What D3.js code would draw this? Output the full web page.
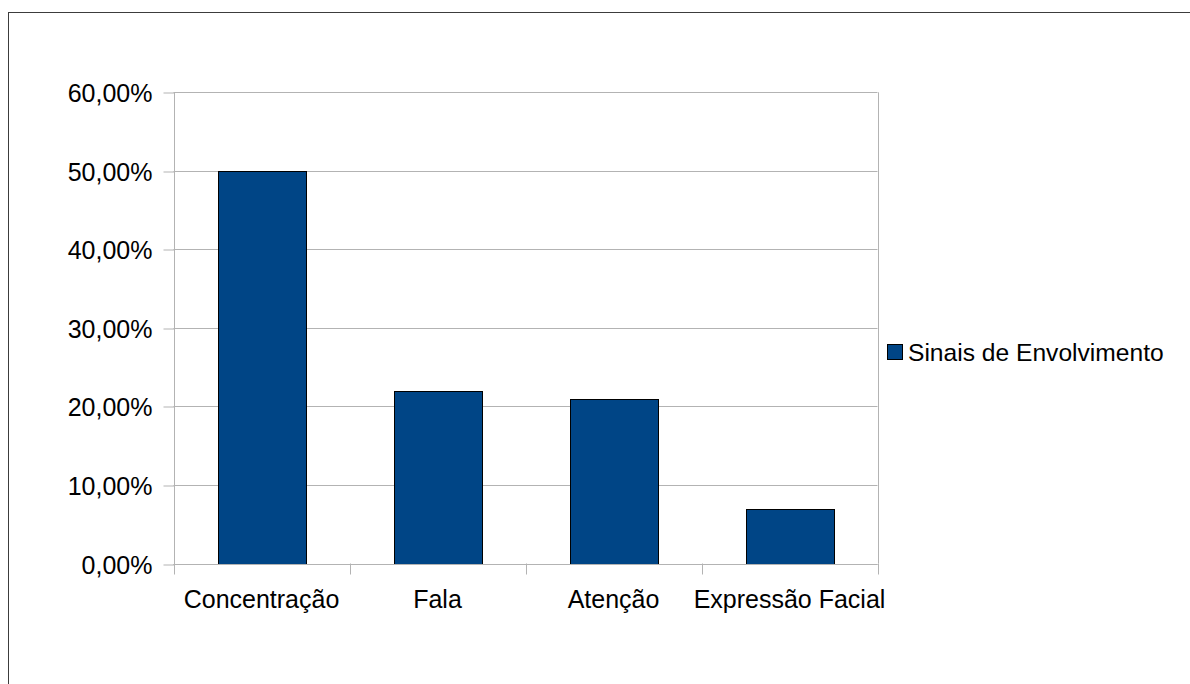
<!DOCTYPE html>
<html>
<head>
<meta charset="utf-8">
<script src="https://cdn.jsdelivr.net/npm/d3@7"></script>
<style>
  html, body { margin: 0; padding: 0; background: #fff; }
  svg { display: block; font-family: "Liberation Sans", Arial, sans-serif; }
</style>
</head>
<body>
<svg id="chart" width="1190" height="684"></svg>
<script>
// Sinais de Envolvimento — share of observations per category
const categories = ["Concentração", "Fala", "Atenção", "Expressão Facial"];
const values = [0.50, 0.22, 0.21, 0.07];
const seriesName = "Sinais de Envolvimento";
const yTicks = [0, 0.1, 0.2, 0.3, 0.4, 0.5, 0.6];

const svg = d3.select("#chart");
const W = 1190, H = 684;
const plot = { left: 173.5, right: 877.5, top: 92.3, bottom: 563.5 };
const barColor = "#004586";
const gridColor = "#b3b3b3";
const fontSize = 25;

// outer frame of the chart object (right/bottom edges fall outside the page)
svg.append("rect")
  .attr("x", 8.5).attr("y", 12.5)
  .attr("width", W + 20).attr("height", H + 20)
  .attr("fill", "#fff").attr("stroke", "#3c3c3c").attr("stroke-width", 1);

const x = d3.scaleBand().domain(categories)
  .range([plot.left, plot.right]).paddingInner(0.5).paddingOuter(0.25);
const y = d3.scaleLinear().domain([0, 0.6]).range([plot.bottom, plot.top]);

const fmt = v => d3.format(".2f")(v * 100).replace(".", ",") + "%";

// horizontal grid lines
svg.append("g").selectAll("line").data(yTicks).join("line")
  .attr("x1", plot.left).attr("x2", plot.right)
  .attr("y1", d => Math.round(y(d)) + 0.5).attr("y2", d => Math.round(y(d)) + 0.5)
  .attr("stroke", gridColor).attr("stroke-width", 1);

// right border of the plot area
svg.append("line")
  .attr("x1", Math.round(plot.right) + 0.5).attr("x2", Math.round(plot.right) + 0.5)
  .attr("y1", plot.top).attr("y2", plot.bottom)
  .attr("stroke", gridColor);

// bars
svg.append("g").selectAll("rect").data(values).join("rect")
  .attr("x", (d, i) => Math.round(x(categories[i])) + 0.5)
  .attr("y", d => Math.round(y(d)) + 0.5)
  .attr("width", x.bandwidth())
  .attr("height", d => Math.round(y(0)) - Math.round(y(d)))
  .attr("fill", barColor).attr("stroke", "#000").attr("stroke-width", 1);

// y axis
const yAxis = svg.append("g")
  .attr("transform", `translate(${Math.round(plot.left) + 0.5},0)`)
  .call(d3.axisLeft(y).tickValues(yTicks).tickFormat(fmt).tickSize(11).tickPadding(11));
yAxis.select(".domain").attr("stroke", gridColor).attr("d", `M0,${plot.top}V${Math.round(plot.bottom) + 0.5}`);
yAxis.selectAll(".tick line").attr("stroke", gridColor)
  .attr("transform", d => `translate(0,${Math.round(y(d)) + 0.5 - y(d)})`);
yAxis.selectAll(".tick text")
  .attr("font-size", fontSize).attr("font-family", "Liberation Sans, Arial, sans-serif")
  .attr("fill", "#000").attr("dy", "0.38em");

// x axis: ticks at category boundaries
const bounds = d3.range(categories.length + 1).map(i => plot.left + i * (plot.right - plot.left) / categories.length);
const xg = svg.append("g");
xg.append("line")
  .attr("x1", plot.left).attr("x2", plot.right)
  .attr("y1", Math.round(plot.bottom) + 0.5).attr("y2", Math.round(plot.bottom) + 0.5)
  .attr("stroke", gridColor);
xg.selectAll("line.tk").data(bounds).join("line").attr("class", "tk")
  .attr("x1", d => Math.round(d) + 0.5).attr("x2", d => Math.round(d) + 0.5)
  .attr("y1", plot.bottom).attr("y2", plot.bottom + 11)
  .attr("stroke", gridColor);
xg.selectAll("text").data(categories).join("text")
  .attr("x", d => x(d) + x.bandwidth() / 2)
  .attr("y", 608)
  .attr("text-anchor", "middle")
  .attr("font-size", fontSize).attr("fill", "#000")
  .text(d => d);

// legend
const lg = svg.append("g").attr("transform", "translate(887,344)");
lg.append("rect").attr("x", 0.5).attr("y", 0.5).attr("width", 15).attr("height", 15)
  .attr("fill", barColor).attr("stroke", "#000");
lg.append("text").attr("x", 21).attr("y", 16.5)
  .attr("font-size", 24.6).attr("fill", "#000").text(seriesName);
</script>
</body>
</html>
